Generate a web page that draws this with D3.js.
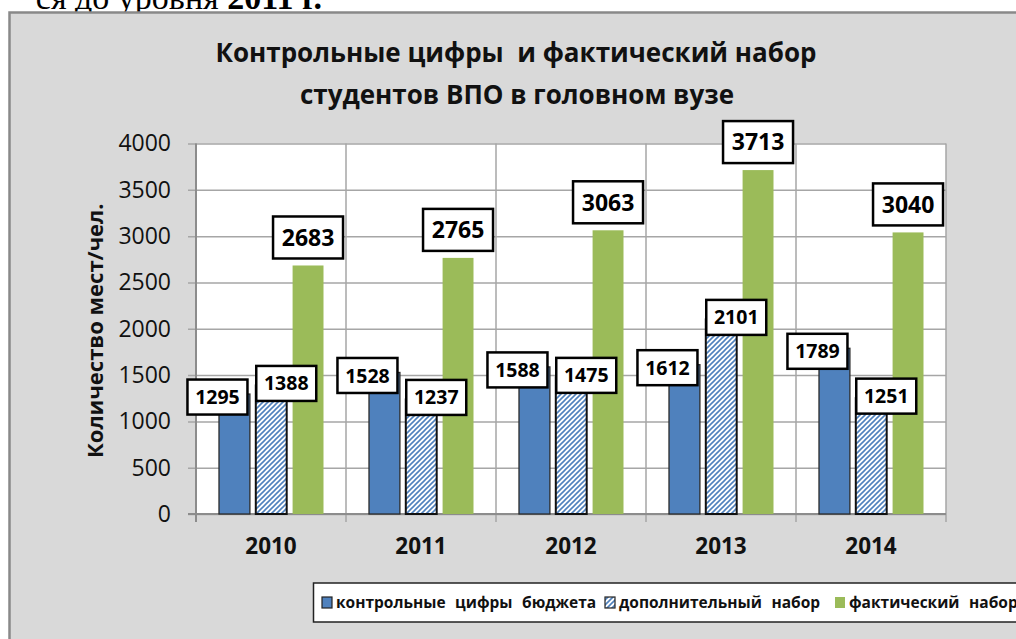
<!DOCTYPE html>
<meta charset="utf-8">
<head>
<script src="https://d3js.org/d3.v7.min.js"></script>
<style>
  body { margin: 0; background: #fff; }
  text { font-family: "Open Sans", sans-serif; white-space: pre; }
</style>
</head>
<body>
<svg id="chart" width="1016" height="639"></svg>
<script>
// data
var years = ["2010", "2011", "2012", "2013", "2014"];
var budget = [1295, 1528, 1588, 1612, 1789];   // контрольные цифры бюджета
var extra = [1388, 1237, 1475, 2101, 1251];    // дополнительный набор
var actual = [2683, 2765, 3063, 3713, 3040];   // фактический набор
var seriesNames = ["контрольные цифры бюджета", "дополнительный набор", "фактический набор"];
var yTicks = [0, 500, 1000, 1500, 2000, 2500, 3000, 3500, 4000];

var svg = d3.select("#chart");

// bit of the document text above the chart
var doc = svg.append("text")
    .attr("x", 322).attr("y", 9)
    .attr("text-anchor", "end")
    .style("font-family", "'Liberation Serif', serif")
    .style("font-size", "34px");
doc.append("tspan").text("ся до уровня ");
doc.append("tspan").style("font-weight", "bold").text("2011 г.");

// chart frame
svg.append("rect")
    .attr("x", 9.5).attr("y", 12.5)
    .attr("width", 1030).attr("height", 650)
    .attr("fill", "#d9d9d9")
    .attr("stroke", "#898989")
    .attr("stroke-width", 2.5);

// hatch pattern
var defs = svg.append("defs");
var pat = defs.append("pattern")
    .attr("id", "hatch")
    .attr("patternUnits", "userSpaceOnUse")
    .attr("width", 5).attr("height", 5);
pat.append("rect").attr("width", 5).attr("height", 5).attr("fill", "#fff");
pat.append("path")
    .attr("d", "M-1,1 l2,-2 M0,5 l5,-5 M4,6 l2,-2")
    .attr("stroke", "#4f81bd")
    .attr("stroke-width", 1.6);

var plotLeft = 196, plotRight = 946, plotTop = 143.5, plotBottom = 514;

var x = d3.scaleBand().domain(years).range([plotLeft, plotRight]);
var x1 = d3.scaleBand().domain(seriesNames).range([23, 127.5]).paddingInner(0.16);
var y = d3.scaleLinear().domain([0, 4000]).range([plotBottom, plotTop]);

var colors = ["#4f81bd", "url(#hatch)", "#9bbb59"];
var strokes = ["#2b2b2b", "#111", "none"];

// plot area
svg.append("rect")
    .attr("x", plotLeft).attr("y", plotTop)
    .attr("width", plotRight - plotLeft).attr("height", plotBottom - plotTop)
    .attr("fill", "#fff");

// horizontal grid + y axis labels
var yAxis = d3.axisLeft(y).tickValues(yTicks).tickFormat(d3.format("d"))
    .tickSize(-(plotRight - plotLeft + 8)).tickPadding(17);
var gy = svg.append("g")
    .attr("transform", "translate(" + (plotLeft - 8) + ",0)")
    .call(yAxis);
gy.select(".domain").remove();
gy.selectAll("line").attr("stroke", "#a6a6a6").attr("stroke-width", 1.5);
gy.selectAll("text")
    .style("font-family", "'Open Sans', sans-serif")
    .style("font-size", "23px")
    .attr("fill", "#111");

// vertical grid at category boundaries
var bounds = years.map(function (d) { return x(d); }).concat([plotRight]);
svg.append("g").selectAll("line")
    .data(bounds)
    .enter().append("line")
    .attr("x1", function (d) { return d; })
    .attr("x2", function (d) { return d; })
    .attr("y1", plotTop).attr("y2", plotBottom + 8)
    .attr("stroke", "#a6a6a6")
    .attr("stroke-width", 1.5);

// axis lines
svg.append("line").attr("x1", plotLeft).attr("x2", plotLeft).attr("y1", plotTop).attr("y2", plotBottom + 8)
    .attr("stroke", "#8c8c8c").attr("stroke-width", 2);
svg.append("line").attr("x1", plotLeft - 8).attr("x2", plotRight).attr("y1", plotBottom).attr("y2", plotBottom)
    .attr("stroke", "#8c8c8c").attr("stroke-width", 2);

// x labels
var xAxis = d3.axisBottom(x).tickSize(0).tickPadding(24);
var gx = svg.append("g")
    .attr("transform", "translate(0," + plotBottom + ")")
    .call(xAxis);
gx.select(".domain").remove();
gx.selectAll("text")
    .style("font-family", "'Open Sans', sans-serif")
    .style("font-size", "22.5px")
    .style("font-weight", "bold")
    .attr("fill", "#111");

// bars
var rows = [];
years.forEach(function (yr, i) {
  [budget[i], extra[i], actual[i]].forEach(function (v, s) {
    rows.push({ year: yr, s: s, value: v });
  });
});

svg.append("g").selectAll("rect")
    .data(rows)
    .enter().append("rect")
    .attr("x", function (d) { return x(d.year) + x1(seriesNames[d.s]); })
    .attr("y", function (d) { return y(d.value); })
    .attr("width", x1.bandwidth())
    .attr("height", function (d) { return plotBottom - y(d.value); })
    .attr("fill", function (d) { return colors[d.s]; })
    .attr("stroke", function (d) { return strokes[d.s]; })
    .attr("stroke-width", function (d) { return d.s === 1 ? 2 : 1.3; });

// data labels
var labelStyle = [
  { dx: -17, dy: 3, w: 60, h: 35, fs: 19.5 },
  { dx: 15, dy: -2, w: 60, h: 35, fs: 19.5 },
  { dx: 0, dy: -28, w: 70, h: 42, fs: 23 }
];
var labels = svg.append("g").selectAll("g")
    .data(rows)
    .enter().append("g")
    .attr("transform", function (d) {
      var st = labelStyle[d.s];
      var cx = x(d.year) + x1(seriesNames[d.s]) + x1.bandwidth() / 2 + st.dx;
      var cy = y(d.value) + st.dy;
      return "translate(" + cx + "," + cy + ")";
    });
labels.append("rect")
    .attr("x", function (d) { return -labelStyle[d.s].w / 2; })
    .attr("y", function (d) { return -labelStyle[d.s].h / 2; })
    .attr("width", function (d) { return labelStyle[d.s].w; })
    .attr("height", function (d) { return labelStyle[d.s].h; })
    .attr("fill", "#fff")
    .attr("stroke", "#000")
    .attr("stroke-width", 2.5);
labels.append("text")
    .attr("text-anchor", "middle")
    .attr("dy", "0.36em")
    .style("font-size", function (d) { return labelStyle[d.s].fs + "px"; })
    .style("font-weight", "bold")
    .attr("fill", "#000")
    .text(function (d) { return d.value; });

// title
var title = svg.append("text")
    .attr("text-anchor", "middle")
    .style("font-size", "26px").style("font-weight", "bold")
    .attr("fill", "#111");
title.append("tspan").attr("x", 516).attr("y", 62).text("Контрольные цифры  и фактический набор");
title.append("tspan").attr("x", 517).attr("y", 104).text("студентов ВПО в головном вузе");

// y axis title
svg.append("text")
    .attr("transform", "translate(103," + ((plotTop + plotBottom) / 2 + 2) + ") rotate(-90)")
    .attr("text-anchor", "middle")
    .style("font-size", "22px").style("font-weight", "bold")
    .attr("fill", "#111")
    .text("Количество мест/чел.");

// legend
var lg = svg.append("g");
lg.append("rect")
    .attr("x", 313.5).attr("y", 583)
    .attr("width", 760).attr("height", 39)
    .attr("fill", "#fff")
    .attr("stroke", "#222").attr("stroke-width", 1.5);
var legendX = [322, 605, 835];
seriesNames.forEach(function (name, i) {
  lg.append("rect")
      .attr("x", legendX[i]).attr("y", 597)
      .attr("width", 10).attr("height", 11)
      .attr("fill", colors[i])
      .attr("stroke", i === 2 ? "none" : "#222")
      .attr("stroke-width", 1.2);
  lg.append("text")
      .attr("x", legendX[i] + 14).attr("y", 608)
      .style("font-size", "15.5px").style("font-weight", "bold")
      .style("word-spacing", "5.5px")
      .attr("fill", "#111")
      .text(name);
});
</script>
</body>
</html>
